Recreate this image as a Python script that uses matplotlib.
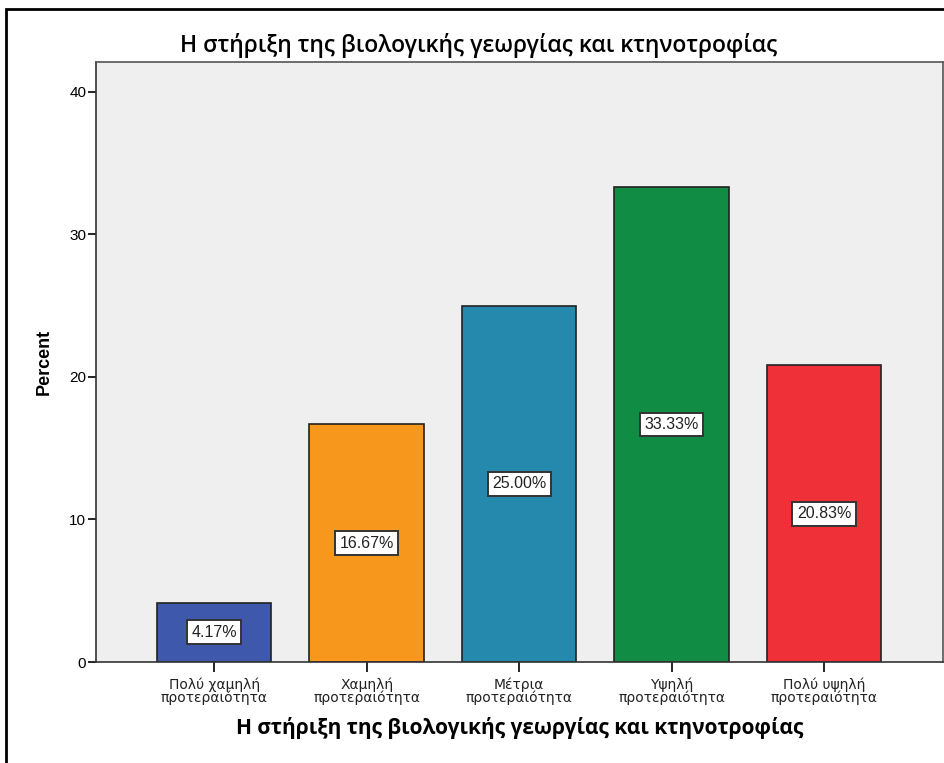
import matplotlib
matplotlib.use("Agg")
import matplotlib.pyplot as plt
from matplotlib.patches import Rectangle

categories = ["Πολύ χαμηλή\nπροτεραιότητα", "Χαμηλή\nπροτεραιότητα",
              "Μέτρια\nπροτεραιότητα", "Υψηλή\nπροτεραιότητα",
              "Πολύ υψηλή\nπροτεραιότητα"]
percent = [4.17, 16.67, 25.00, 33.33, 20.83]
bar_colors = ["#3E58AC", "#F7981D", "#2589AE", "#108C45", "#EF3038"]
yticks = [0, 10, 20, 30, 40]
title = "Η στήριξη της βιολογικής γεωργίας και κτηνοτροφίας"

W, H = 945, 763
fig = plt.figure(figsize=(W / 100, H / 100), dpi=100)
ax = fig.add_axes([96 / W, 1 - 662 / H, 847 / W, 600 / H])
ax.set_facecolor("#EFEFEF")

x = list(range(len(percent)))
ax.bar(x, percent, width=0.75, color=bar_colors, edgecolor="#222222", linewidth=1.2, zorder=2)

for xi, v in zip(x, percent):
    ax.text(xi, v / 2, "{:.2f}%".format(v), ha="center", va="center",
            fontsize=11.5, family="Liberation Sans", color="#222222", zorder=3,
            bbox=dict(boxstyle="square,pad=0.28", fc="white", ec="#333333", lw=1.4))

ax.set_xlim(-0.775, 4.78)
ax.set_ylim(0, 42.1)
ax.set_yticks(yticks)
ax.set_xticks(x)
ax.set_xticklabels(categories, fontsize=10, family="DejaVu Sans", linespacing=0.85,
                   color="#222222")
ax.tick_params(axis="y", labelsize=11, length=6, width=1.2, pad=1)
ax.tick_params(axis="x", length=7, width=1.2, pad=4)
for lbl in ax.get_yticklabels():
    lbl.set_family("Liberation Sans")

for s in ax.spines.values():
    s.set_color("#555555")
    s.set_linewidth(1.2)
ax.spines["left"].set_color("#333333")
ax.spines["bottom"].set_color("#333333")

ax.set_ylabel("Percent", fontsize=13, fontweight="bold", family="Liberation Sans", labelpad=12)
ax.set_xlabel(title, fontsize=15, fontweight="bold", family="Open Sans", labelpad=9)
fig.text(479 / W, 1 - 45 / H, title, ha="center", va="center",
         fontsize=16.5, fontweight="semibold", family="Open Sans")

# outer frame of the screenshot
fig.patches.append(Rectangle((6 / W, -0.1), 1.2, 1.1 - 9 / H,
                             transform=fig.transFigure, fill=False,
                             ec="black", lw=2))

fig.savefig("out.png", dpi=100)
